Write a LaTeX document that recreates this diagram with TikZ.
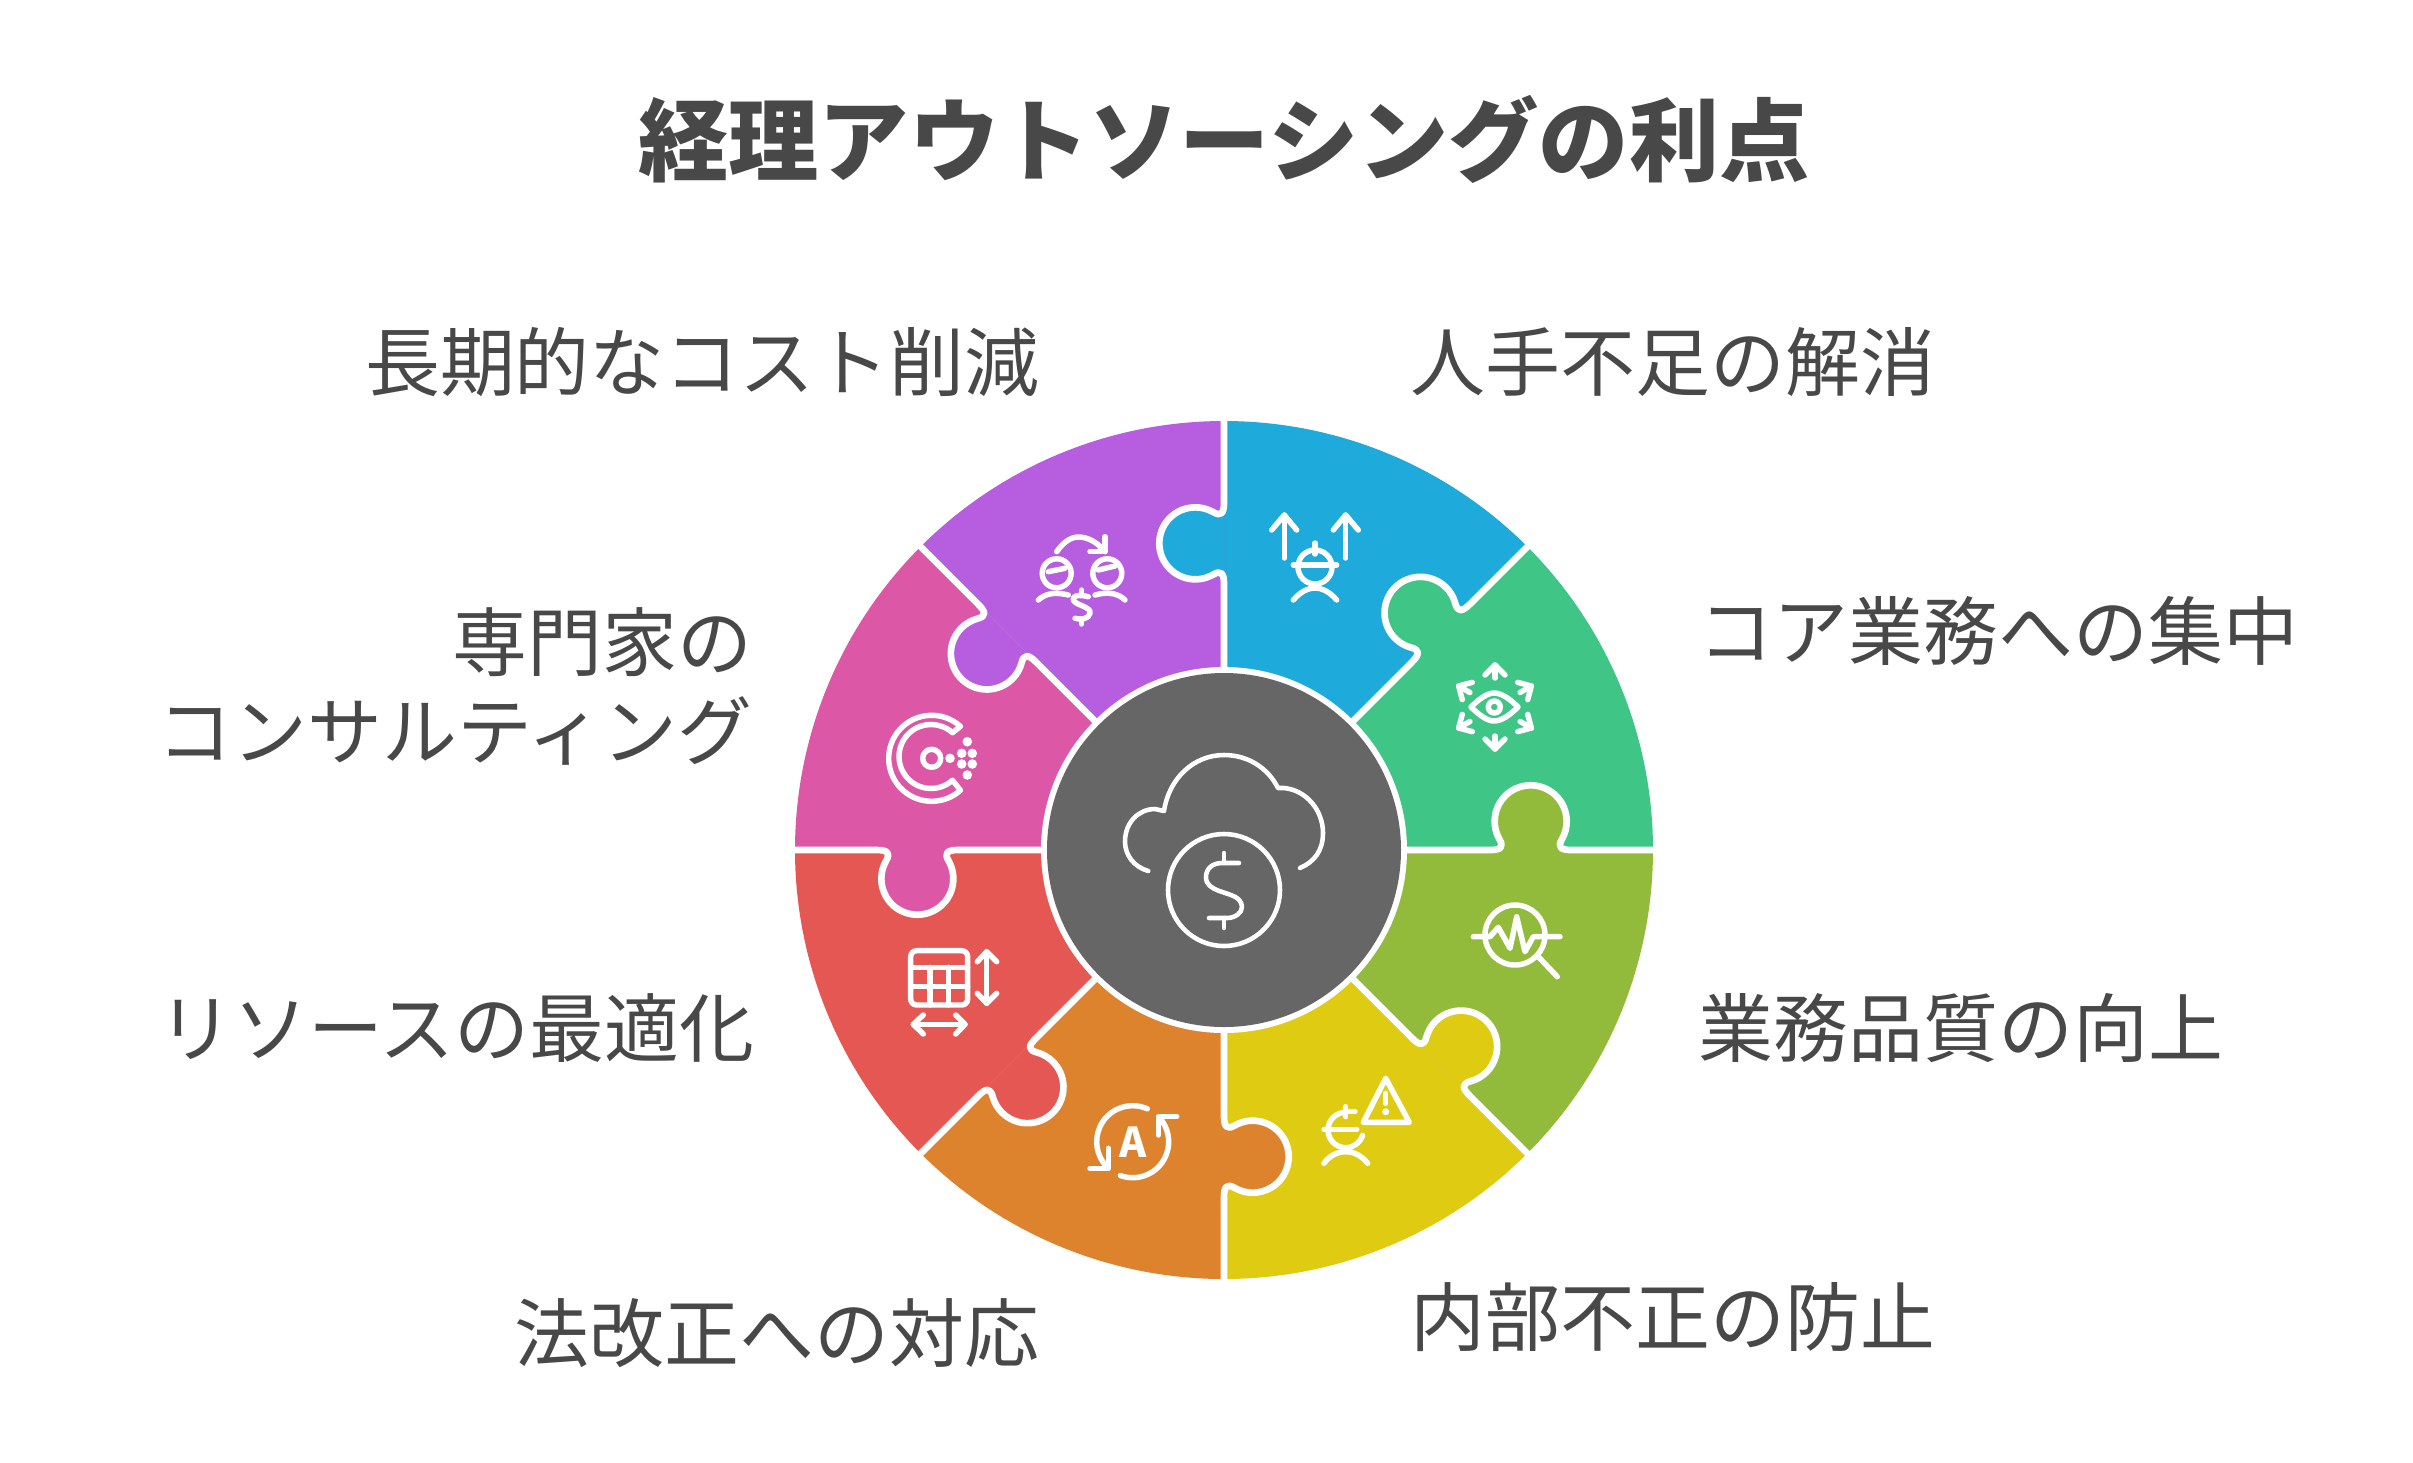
\documentclass[tikz,border=0pt]{standalone}
\usepackage{fontspec}
\setmainfont{Noto Sans CJK JP}

\definecolor{pecaazul}{HTML}{1EAADB}
\definecolor{pecaverde}{HTML}{3FC585}
\definecolor{pecaoliva}{HTML}{93BB3B}
\definecolor{pecaamarelo}{HTML}{DFCC12}
\definecolor{pecalaranja}{HTML}{DD832E}
\definecolor{pecavermelho}{HTML}{E55753}
\definecolor{pecarosa}{HTML}{DC58A6}
\definecolor{pecaroxo}{HTML}{B65DE0}
\definecolor{centro}{HTML}{666666}
\definecolor{texto}{HTML}{484848}

\tikzset{
  rotulo/.style={inner sep=0pt, text=texto, font=\fontsize{21.3}{25.3}\selectfont},
  icone/.style={draw=white, line width=1.55pt, line cap=round, line join=round},
  ponto/.style={fill=white, draw=none}
}

\begin{document}
\begin{tikzpicture}[x=0.01cm, y=0.01cm]
    \useasboundingbox (-1224,-612) rectangle (1189,850);

    % Encaixe de uma peca, sobre o eixo x
    \def\encaixe{(170,0) -- (266,0) .. controls (277,0) and (280,3) .. (275.5,10.7)
        arc (210:-30:36) .. controls (333.4,3) and (336.4,0) .. (347.4,0) -- (432,0)}

    % Setores
    \foreach \ang/\cor in {90/pecaazul,45/pecaverde,0/pecaoliva,-45/pecaamarelo,-90/pecalaranja,-135/pecavermelho,180/pecarosa,135/pecaroxo}
        \fill[\cor] (0,0) -- (\ang:429) arc (\ang:\ang-45:429) -- cycle;

    % Encaixes entre as pecas
    \foreach \ang/\cor in {90/pecaazul,45/pecaverde,0/pecaoliva,-45/pecaamarelo,-90/pecalaranja,-135/pecavermelho,180/pecarosa,135/pecaroxo}
    {
        \begin{scope}[rotate=\ang]
            \fill[\cor] \encaixe -- cycle;
            \draw[white, line width=1.9pt, line join=round] \encaixe;
        \end{scope}
    }

    % Circulo central
    \fill[white] (0,0) circle (183);
    \fill[centro] (0,0) circle (177);

    % Nuvem e moeda
    \draw[icone, line width=1.3pt] (-75.7,-21) .. controls (-90,-17) and (-99,-5) .. (-99,8.3)
        .. controls (-99,28) and (-85,41) .. (-69,41) -- (-60,39)
        .. controls (-55,72) and (-30,95) .. (0,95)
        .. controls (24,95) and (44,82) .. (54,62) -- (60,62)
        .. controls (82,60) and (99,40) .. (99,17)
        .. controls (99,-1) and (90,-12) .. (76,-18);
    \draw[icone, line width=1.3pt] (0,-40) circle (56);
    \draw[icone, line width=1.3pt] (15,-13) -- (-2,-13) .. controls (-12,-13) and (-18,-19) .. (-18,-27)
        .. controls (-18,-35) and (-12,-38) .. (-6,-40.5) -- (7,-45)
        .. controls (13,-47) and (18,-51) .. (18,-57)
        .. controls (18,-63) and (11,-68) .. (3,-68) -- (-15,-68);
    \draw[icone, line width=1.3pt] (0,-3) -- (0,-13);
    \draw[icone, line width=1.3pt] (0,-68) -- (0,-78);

    % Pessoa e setas
    \draw[icone] (60.3,292) -- (60.3,335);
    \draw[icone] (47.7,320) -- (60.3,335) -- (72.7,320);
    \draw[icone] (121.7,292) -- (121.7,335);
    \draw[icone] (109.3,320) -- (121.7,335) -- (134.3,320);
    \draw[icone] (91,283) circle (17);
    \draw[icone] (69.3,285) -- (112.7,285);
    \draw[icone] (91,307) -- (91,296);
    \draw[icone] (69.3,250) .. controls (76,258) and (84,262) .. (91,262) .. controls (98,262) and (106,258) .. (112.7,250);

    % Olho
    \draw[icone] (247,143) .. controls (256,152) and (264,157) .. (270,157)
        .. controls (277,157) and (285,152) .. (294,143)
        .. controls (285,134) and (277,129) .. (270,129)
        .. controls (264,129) and (256,134) .. (247,143) -- cycle;
    \draw[icone] (270.3,143) circle (6);
    \foreach \dir in {90,30,-30,-90,-150,150}
    {
        \begin{scope}[shift={(271,143)}, rotate=\dir]
            \draw[icone] (29,0) -- (42,0);
            \draw[icone] (32,-10) -- (42,0) -- (32,10);
        \end{scope}
    }

    % Lupa
    \draw[icone] (291,-85) circle (30);
    \draw[icone] (249.3,-86.7) -- (266,-86.7) -- (274.3,-77.3) -- (286,-98.3) -- (292.7,-66.7) -- (301,-101.7) -- (309.3,-86.7) -- (336,-86.7);
    \draw[icone] (314.3,-106.7) -- (333.3,-126.7);

    % Alerta e pessoa
    \draw[icone] (161.7,-228.3) -- (139.3,-272.3) -- (185.3,-272.3) -- cycle;
    \draw[icone] (161.7,-243.3) -- (161.7,-253.3);
    \fill[ponto] (161.7,-261.7) circle (3.5);
    \draw[icone] (121.7,-262.3) arc (90:342:17.7);
    \draw[icone] (100,-279.3) -- (132.7,-279.3);
    \draw[icone] (121.7,-256.7) -- (121.7,-266.7);
    \draw[icone] (121.7,-261.7) -- (131,-261.7);
    \draw[icone] (100,-313.3) .. controls (106,-305) and (114,-301.7) .. (121.7,-301.7) .. controls (129,-301.7) and (137,-305) .. (143.7,-313.3);

    % Letra e setas circulares
    \draw[icone] (-91.3,-291.7) ++(66:36) arc (66:222:36);
    \draw[icone] (-134,-318.3) -- (-115.7,-318.3) -- (-115.7,-298.3);
    \draw[icone] (-91.3,-291.7) ++(250:36) arc (250:402:36);
    \draw[icone] (-47.3,-266.7) -- (-65.7,-266.7) -- (-65.7,-285);
    \node[text=white, inner sep=0pt, font=\fontsize{11.7}{12}\selectfont\bfseries] (letra) at (-91.3,-291.7) {A};

    % Tabela e setas
    \draw[icone, rounded corners=1.7pt] (-313.3,-100.7) rectangle (-256.3,-155);
    \draw[icone] (-313.3,-117.3) -- (-256.3,-117.3);
    \draw[icone] (-313.3,-136.7) -- (-256.3,-136.7);
    \draw[icone] (-294,-117.3) -- (-294,-155);
    \draw[icone] (-275.7,-117.3) -- (-275.7,-155);
    \draw[icone] (-237.3,-101.7) -- (-237.3,-153.3);
    \draw[icone] (-246.7,-111.7) -- (-237.3,-101.7) -- (-227.3,-111.7);
    \draw[icone] (-246.7,-143.3) -- (-237.3,-153.3) -- (-227.3,-143.3);
    \draw[icone] (-310.7,-174.3) -- (-259,-174.3);
    \draw[icone] (-300.7,-165) -- (-310.7,-174.3) -- (-300.7,-184);
    \draw[icone] (-268.3,-165) -- (-259,-174.3) -- (-268.3,-184);

    % Letra C com pontos
    \draw[icone] (-292.3,91.7) ++(48:43) arc (48:312:43) -- ++(-8,10)
        arc (312:48:32) -- cycle;
    \draw[icone] (-292.3,91.7) circle (9);
    \foreach \px/\py in {-274/91.7,-262.3/96.7,-251.7/96.7,-262.3/86,-251.7/86,-256.7/108.3,-256.7/75}
        \fill[ponto] (\px,\py) circle (4.8);

    % Duas pessoas e moeda
    \draw[icone] (-167.3,276.7) circle (14.5);
    \draw[icone] (-116.7,276.7) circle (14.5);
    \draw[icone] (-175.7,278.3) -- (-159,281.7);
    \draw[icone] (-125.7,280) -- (-109,284);
    \draw[icone] (-185.7,250) .. controls (-180,255) and (-172,259) .. (-155.7,255);
    \draw[icone] (-129,255) .. controls (-115,259) and (-105,256) .. (-99,250);
    \draw[icone] (-167.3,298.3) .. controls (-160,309) and (-152,313) .. (-145.7,313) .. controls (-136,313) and (-127,308) .. (-119,298.3);
    \draw[icone] (-119,313.3) -- (-119,298.3) -- (-134,298.3);
    \draw[icone] (-135.7,253.3) .. controls (-146,256) and (-152,254) .. (-150.7,250) .. controls (-149,245) and (-132,243) .. (-134,236.7) .. controls (-135,231) and (-143,230) .. (-149,231.7);
    \draw[icone] (-142.3,260) -- (-142.3,256);
    \draw[icone] (-142.3,230) -- (-142.3,226);

    % Textos
    \node[inner sep=0pt, text=texto, font=\fontsize{25.65}{30}\selectfont\bfseries] (titulo) at (0,711) {経理アウトソーシングの利点};
    \node[rotulo, anchor=east] (custo) at (-184,488) {長期的なコスト削減};
    \node[rotulo, anchor=west] (pessoal) at (186,488) {人手不足の解消};
    \node[rotulo, anchor=west] (nucleo) at (474,219) {コア業務への集中};
    \node[rotulo, anchor=east, align=right] (consultoria) at (-471,164) {専門家の\\コンサルティング};
    \node[rotulo, anchor=west] (qualidade) at (474,-178) {業務品質の向上};
    \node[rotulo, anchor=east] (recursos) at (-469,-178) {リソースの最適化};
    \node[rotulo, anchor=east] (lei) at (-184,-483) {法改正への対応};
    \node[rotulo, anchor=west] (fraude) at (186,-467) {内部不正の防止};

\end{tikzpicture}
\end{document}
